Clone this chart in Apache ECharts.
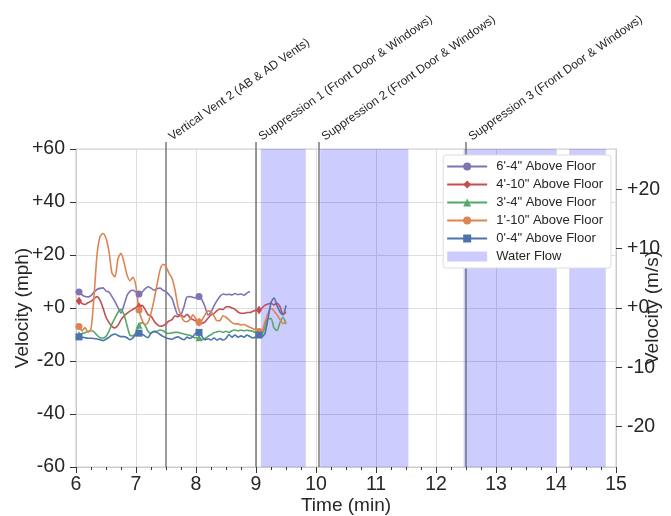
<!DOCTYPE html>
<html>
<head>
<meta charset="utf-8">
<script src="https://cdn.jsdelivr.net/npm/echarts@6/dist/echarts.min.js"></script>
<style>
  html, body { margin: 0; padding: 0; background: #ffffff; }
  #chart { width: 671px; height: 516px; }
</style>
</head>
<body>
<div id="chart"></div>
<script>
// Sample times (min)
const minutes = [
  6.00, 6.05, 6.10, 6.15, 6.20, 6.25, 6.30, 6.35, 6.40, 6.45,
  6.50, 6.55, 6.60, 6.65, 6.70, 6.75, 6.80, 6.85, 6.90, 6.95,
  7.00, 7.05, 7.10, 7.15, 7.20, 7.25, 7.30, 7.35, 7.40, 7.45,
  7.50, 7.55, 7.60, 7.65, 7.70, 7.75, 7.80, 7.85, 7.90, 7.95,
  8.00, 8.05, 8.10, 8.15, 8.20, 8.25, 8.30, 8.35, 8.40, 8.45,
  8.50, 8.55, 8.60, 8.65, 8.70, 8.75, 8.80, 8.85, 8.90, 8.95,
  9.00, 9.05, 9.10, 9.15, 9.20, 9.25, 9.30, 9.35, 9.40, 9.45,
  9.50
];

// Velocity (mph) by probe height
const vel6ft4in = [
  6.4, 6.0, 5.0, 4.3, 4.2, 4.7, 6.0, 7.0, 7.4, 7.6,
  6.4, 6.0, 4.3, 2.4, 0.1, -1.9, 1.1, 4.7, 6.3, 6.7,
  6.0, 5.3, 6.0, 7.2, 8.0, 7.5, 6.7, 7.3, 7.5, 6.7,
  6.2, 5.0, 3.6, 0.1, -2.6, -2.4, 0.5, 4.2, 4.3, 4.0,
  3.8, 4.3, 3.1, 0.5, -2.6, -1.5, 0.8, 2.8, 4.4, 5.3,
  5.0, 5.2, 4.9, 5.5, 5.0, 5.3, 4.8, 5.7, 6.2, null,
  null, null, null, null, null, null, null, null, null, null,
  null
];
const vel4ft10in = [
  2.6, 2.6, 1.7, 1.3, 2.0, 2.5, 3.5, 4.3, 3.0, 0.0,
  -3.5, -5.5, -7.0, -7.5, -6.5, -4.5, -3.0, -2.0, -1.2, -0.5,
  0.2, 0.5, 1.0, -0.5, -2.5, -3.0, -4.9, -6.2, -6.9, -6.7,
  -6.0, -4.9, -4.4, -2.9, -3.3, -2.6, -3.4, -2.4, -3.6, -4.4,
  -4.9, -5.4, -5.7, -5.2, -3.9, -2.6, -2.1, -1.0, -0.4, -0.6,
  0.5, 0.5, 0.0, -0.5, -1.5, -2.0, -2.0, -1.7, -1.7, -1.2,
  -0.9, -0.8, 0.0, 1.1, 1.5, 1.8, 1.2, 1.8, 0.5, -2.5,
  -1.4
];
const vel3ft4in = [
  -10.2, -10.0, -9.6, -9.3, -8.8, -8.6, -9.0, -10.3, -11.2, -11.3,
  -10.7, -8.7, -6.0, -3.8, -1.6, -0.5, -2.5, -6.5, -10.3, -10.5,
  -9.2, -6.5, -5.5, -6.5, -8.8, -9.5, -8.8, -8.8, -8.3, -8.6,
  -9.3, -9.6, -9.4, -9.2, -9.2, -9.5, -9.8, -10.1, -10.3, -11.0,
  -11.2, -11.2, -12.0, -11.5, -10.7, -10.1, -9.3, -9.0, -8.8, -9.2,
  -8.8, -9.2, -8.6, -8.3, -8.6, -8.3, -8.6, -8.4, -8.6, -8.8,
  -9.4, -9.0, -9.8, -7.0, -4.0, -4.0, -7.5, -8.5, -5.5, -3.5,
  -6.0
];
const vel1ft10in = [
  -7.7, -7.0, -8.7, -7.4, -9.2, -7.9, 4.3, 20.0, 26.9, 28.1,
  26.3, 21.3, 13.1, 11.8, 18.7, 20.6, 17.2, 12.5, 10.3, 11.6,
  8.1, -0.8, -4.5, -6.2, -5.5, -2.0, 3.0, 8.7, 14.3, 16.5,
  15.6, 13.1, 11.2, 6.8, 0.5, -2.9, -4.9, -5.2, -4.3, -2.6,
  -4.2, -5.4, -4.5, -2.6, -1.1, -1.4, -3.0, -4.8, -4.7, -2.9,
  -3.5, -4.5, -5.5, -6.0, -6.0, -6.4, -6.2, -6.8, -7.3, -7.8,
  -8.3, -8.9, -8.7, -5.2, -2.0, -0.1, -1.1, -2.6, -4.3, -5.9,
  -4.9
];
const vel0ft4in = [
  -10.9, -10.9, -11.0, -11.2, -11.4, -11.4, -11.5, -11.7, -12.0, -12.3,
  -11.8, -11.0, -10.2, -9.8, -10.4, -10.8, -10.8, -11.2, -12.0, -11.3,
  -10.0, -9.5, -9.8, -10.6, -11.2, -9.5, -8.9, -9.2, -10.0, -10.7,
  -11.3, -11.6, -11.8, -11.2, -10.9, -11.5, -12.0, -11.0, -11.5, -10.7,
  -9.4, -9.2, -10.8, -12.0, -11.6, -12.1, -11.3, -12.1, -11.5, -12.1,
  -11.5, -10.0, -11.0, -10.2, -11.0, -10.5, -11.0, -10.2, -10.8, -11.3,
  -10.8, -10.2, -10.8, -9.5, -4.0, 2.0, 3.8, 1.0, -1.5, -2.5,
  1.0
];

const seriesNames = [
  '6\'-4" Above Floor',
  '4\'-10" Above Floor',
  '3\'-4" Above Floor',
  '1\'-10" Above Floor',
  '0\'-4" Above Floor'
];

// Times at which each trace carries a marker
const markerMinutes = [6.05, 7.05, 8.05, 9.05];

// Tactical events
const eventMinutes = [7.5, 9.0, 10.05, 12.5];
const eventLabels = [
  'Vertical Vent 2 (AB & AD Vents)',
  'Suppression 1 (Front Door & Windows)',
  'Suppression 2 (Front Door & Windows)',
  'Suppression 3 (Front Door & Windows)'
];

// Water flow periods (min)
const waterFlowStart = [9.08, 10.07, 12.46, 14.22];
const waterFlowEnd = [9.83, 11.54, 14.00, 14.83];

// Axis ticks
const timeTicks = [6, 7, 8, 9, 10, 11, 12, 13, 14, 15];
const mphTicks = [-60, -40, -20, 0, 20, 40, 60];
const msTicks = [-20, -10, 0, 10, 20];
const MPH_PER_MS = 2.23694;

const MPH_MIN = mphTicks[0];
const MPH_MAX = mphTicks[mphTicks.length - 1];
const TEXT = '#262626';
const FONT = '"Liberation Sans", Arial, sans-serif';
const flowColor = 'rgba(0, 0, 255, 0.2)';
const LABEL_ANGLE = 35 * Math.PI / 180;
const LABEL_SIZE = 12;
const TICK_FONT = 19.5;

function signed(v) {
  return v > 0 || v === 0 ? '+' + v : String(v);
}

function lineSeries(name, values, color, symbol, size) {
  return {
    type: 'line',
    name: name,
    data: minutes.map((t, i) => [t, values[i]]),
    xAxisIndex: 0,
    yAxisIndex: 0,
    smooth: 0.25,
    connectNulls: false,
    showSymbol: true,
    symbol: symbol,
    symbolSize: function (val, params) {
      const t = minutes[params.dataIndex];
      return markerMinutes.some(m => Math.abs(m - t) < 1e-6) ? size : 0;
    },
    lineStyle: { color: color, width: 1.6 },
    itemStyle: { color: color },
    emphasis: { disabled: true },
    z: 3
  };
}

const chart = echarts.init(document.getElementById('chart'), null, { renderer: 'canvas' });

const axisTickStyle = { color: '#333333', width: 1 };
const spineStyle = { color: '#cccccc', width: 1 };

const option = {
  animation: false,
  backgroundColor: '#ffffff',
  textStyle: { fontFamily: FONT, color: TEXT },
  grid: {
    left: 76, right: 55, top: 149, bottom: 49,
    outerBoundsMode: 'none',
    containLabel: false,
    show: true, borderColor: '#cccccc', borderWidth: 1, backgroundColor: 'transparent'
  },
  legend: {
    orient: 'vertical',
    right: 60,
    top: 155,
    backgroundColor: '#ffffff',
    borderColor: '#dddddd',
    borderWidth: 1,
    borderRadius: 3,
    padding: [5, 8, 5, 3],
    itemWidth: 40,
    itemHeight: 10,
    itemGap: 5,
    textStyle: { fontSize: 13, lineHeight: 13, color: TEXT, fontFamily: FONT, padding: [0, 0, 0, 4] },
    data: seriesNames.map(n => ({ name: n })).concat([{ name: 'Water Flow', icon: 'rect' }])
  },
  xAxis: {
    type: 'value',
    min: timeTicks[0],
    max: timeTicks[timeTicks.length - 1],
    interval: 1,
    name: 'Time (min)',
    nameLocation: 'middle',
    nameGap: 29,
    nameMoveOverlap: false,
    nameTextStyle: { fontSize: 19, color: TEXT, fontFamily: FONT, verticalAlign: 'top' },
    axisLine: { show: true, onZero: false, lineStyle: spineStyle },
    axisTick: { show: true, length: 6, lineStyle: axisTickStyle },
    minorTick: { show: true, splitNumber: 4, length: 3, lineStyle: axisTickStyle },
    splitLine: { show: true, lineStyle: { color: '#dedede', width: 1 } },
    axisLabel: { fontSize: TICK_FONT, color: TEXT, margin: 8, fontFamily: FONT }
  },
  yAxis: [
    {
      type: 'value',
      position: 'left',
      min: MPH_MIN,
      max: MPH_MAX,
      interval: 20,
      name: 'Velocity (mph)',
      nameLocation: 'middle',
      nameRotate: 90,
      nameGap: 44,
      nameMoveOverlap: false,
      nameTextStyle: { fontSize: 19, color: TEXT, fontFamily: FONT },
      axisLine: { show: true, onZero: false, lineStyle: spineStyle },
      axisTick: { show: true, length: 6, lineStyle: axisTickStyle },
      splitLine: { show: true, lineStyle: { color: '#dedede', width: 1 } },
      axisLabel: { fontSize: TICK_FONT, color: TEXT, margin: 11, fontFamily: FONT, formatter: signed }
    },
    {
      type: 'value',
      position: 'right',
      min: MPH_MIN / MPH_PER_MS,
      max: MPH_MAX / MPH_PER_MS,
      name: 'Velocity (m/s)',
      nameLocation: 'middle',
      nameRotate: 90,
      nameGap: 27,
      nameMoveOverlap: false,
      nameTextStyle: { fontSize: 19, color: TEXT, fontFamily: FONT },
      axisLine: { show: true, onZero: false, lineStyle: spineStyle },
      axisTick: { show: true, length: 6, customValues: msTicks, lineStyle: axisTickStyle },
      splitLine: { show: false },
      axisLabel: { fontSize: TICK_FONT, color: TEXT, margin: 11, fontFamily: FONT, customValues: msTicks, formatter: signed }
    }
  ],
  series: [
    {
      type: 'custom',
      name: 'Water Flow',
      xAxisIndex: 0,
      yAxisIndex: 0,
      data: waterFlowStart.map((s, i) => [s, waterFlowEnd[i]]),
      encode: { x: [0, 1] },
      itemStyle: { color: flowColor },
      z: 1,
      silent: true,
      renderItem: function (params, api) {
        const a = api.coord([api.value(0), MPH_MAX]);
        const b = api.coord([api.value(1), MPH_MIN]);
        return {
          type: 'rect',
          shape: { x: a[0], y: a[1], width: b[0] - a[0], height: b[1] - a[1] },
          style: { fill: flowColor }
        };
      }
    },
    lineSeries(seriesNames[0], vel6ft4in, '#8172B3', 'circle', 7),
    lineSeries(seriesNames[1], vel4ft10in, '#C44E52', 'diamond', [6, 9]),
    lineSeries(seriesNames[2], vel3ft4in, '#55A868', 'triangle', 7),
    lineSeries(seriesNames[3], vel1ft10in, '#DD8452', 'circle', 7),
    lineSeries(seriesNames[4], vel0ft4in, '#4C72B0', 'rect', 7),
    {
      type: 'custom',
      name: 'events',
      xAxisIndex: 0,
      yAxisIndex: 0,
      data: eventMinutes.map((t, i) => [t, i]),
      encode: { x: 0 },
      clip: false,
      silent: true,
      z: 2,
      renderItem: function (params, api) {
        const t = api.value(0);
        const top = api.coord([t, MPH_MAX]);
        const bot = api.coord([t, MPH_MIN]);
        // anchor so the rotated label's lower-left corner sits at the line top
        const lift = 7;
        const shift = LABEL_SIZE * 1.1 * Math.sin(LABEL_ANGLE);
        return {
          type: 'group',
          children: [
            {
              type: 'line',
              shape: { x1: top[0], y1: bot[1], x2: top[0], y2: top[1] - lift },
              style: { stroke: '#666666', lineWidth: 1.3 }
            },
            {
              type: 'text',
              x: top[0] + shift,
              y: top[1] - lift + 1,
              rotation: LABEL_ANGLE,
              style: {
                text: eventLabels[params.dataIndex],
                fill: TEXT,
                font: LABEL_SIZE + 'px ' + FONT,
                align: 'left',
                verticalAlign: 'bottom'
              }
            }
          ]
        };
      }
    }
  ]
};

chart.setOption(option);
</script>
</body>
</html>
